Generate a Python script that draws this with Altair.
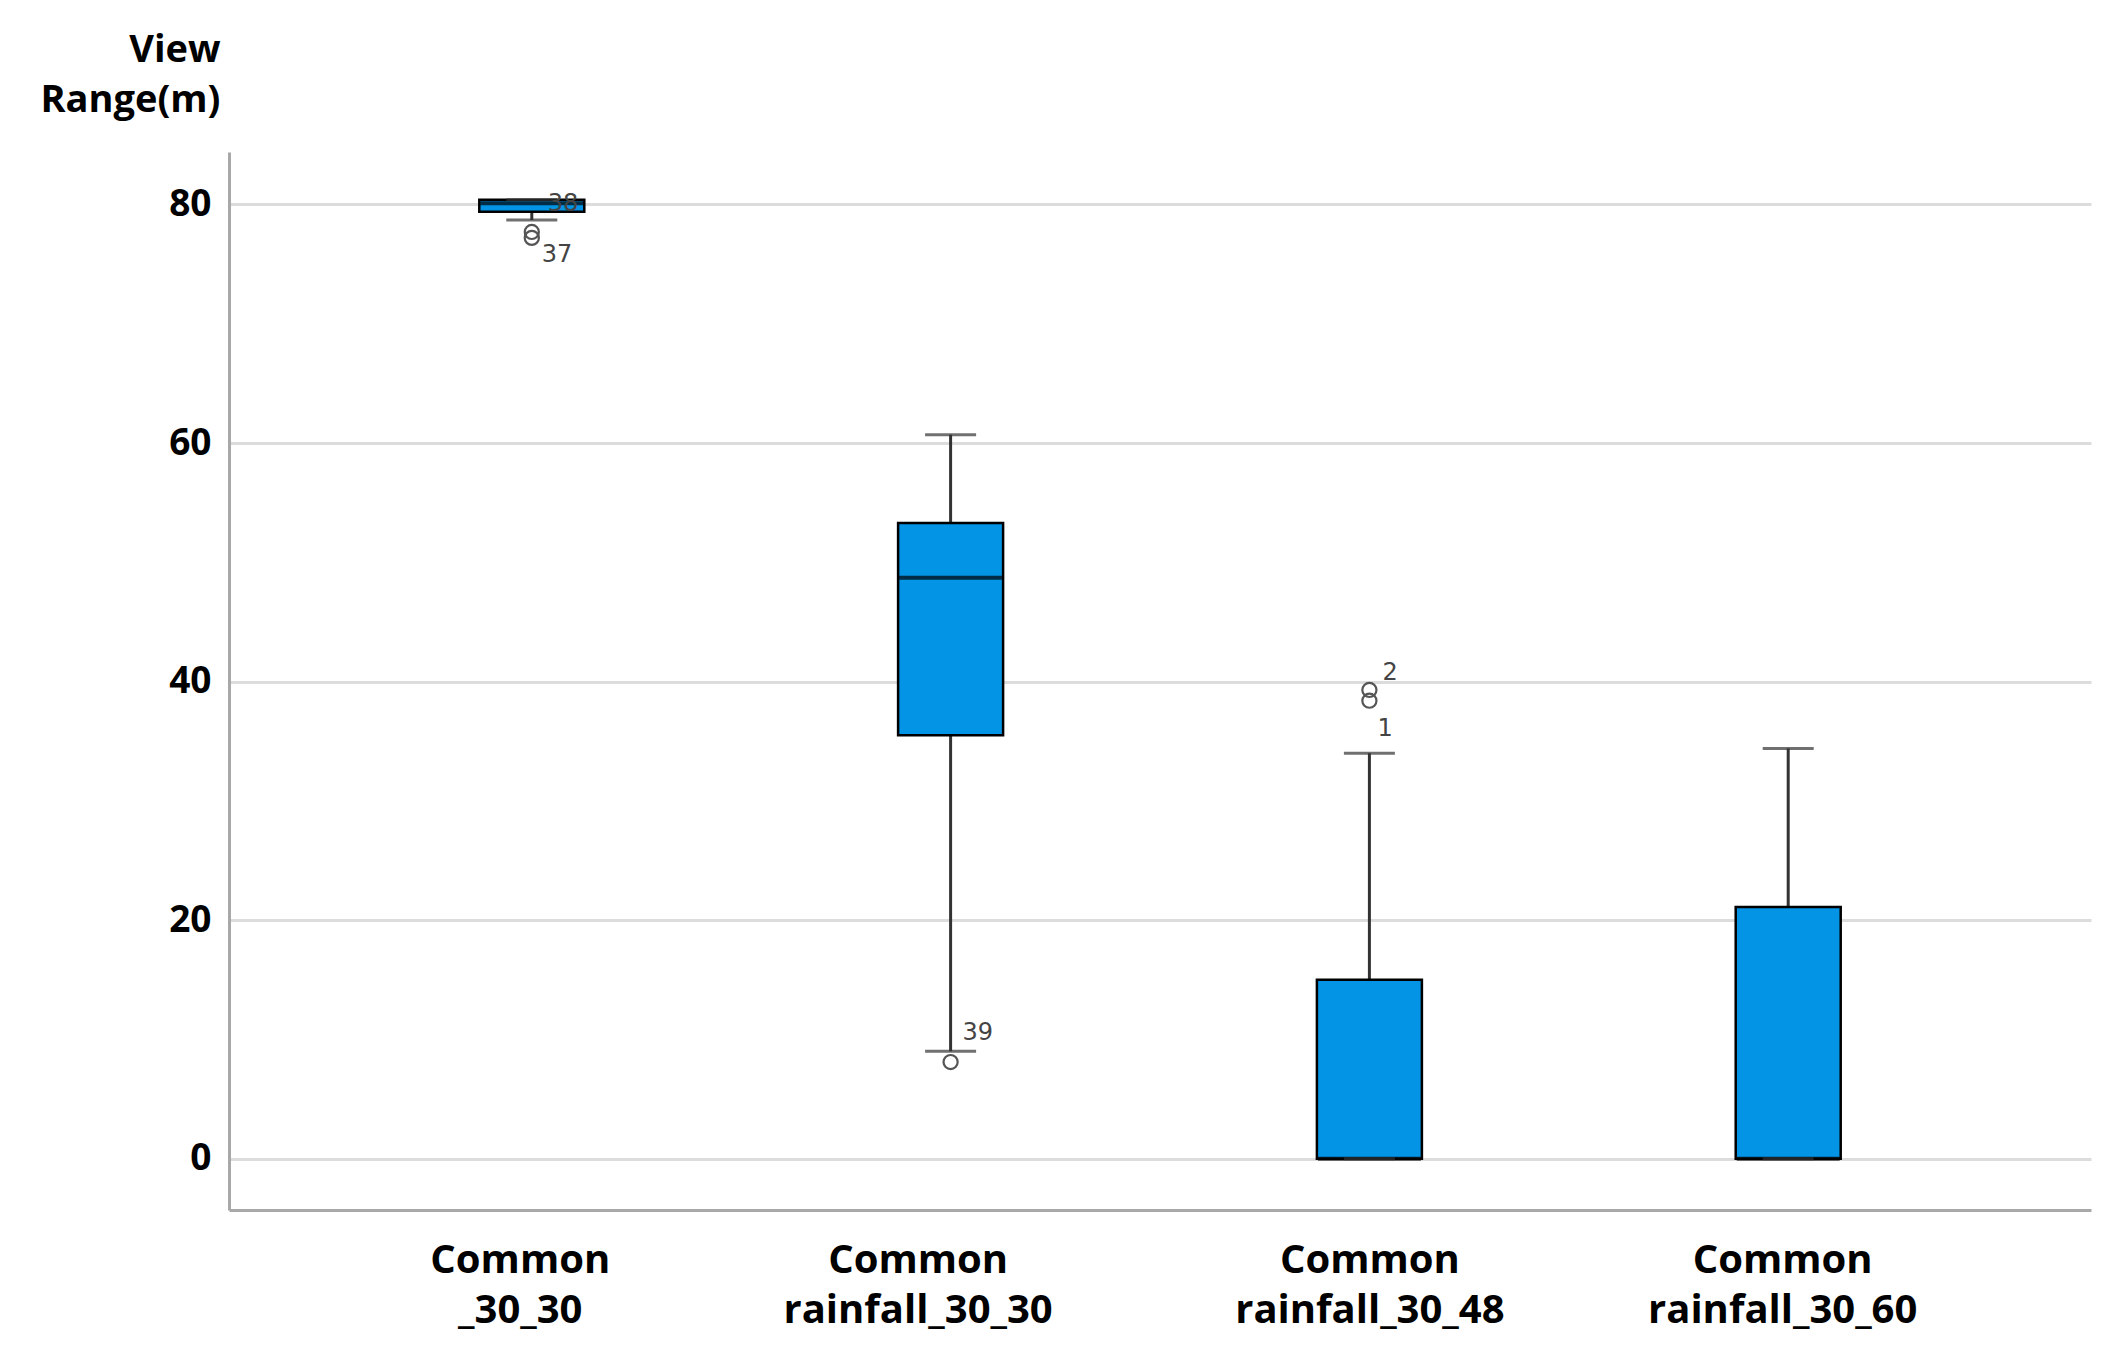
import altair as alt
import pandas as pd

categories = ["Common _30_30", "Common rainfall_30_30", "Common rainfall_30_48", "Common rainfall_30_60"]
lower_whisker = [78.7, 9.0, 0.0, 0.0]
q1 = [79.4, 35.5, 0.0, 0.0]
median = [80.1, 48.7, 0.0, 0.0]
q3 = [80.4, 53.3, 15.0, 21.1]
upper_whisker = [80.4, 60.7, 34.0, 34.4]

outlier_cat = ["Common _30_30", "Common _30_30", "Common rainfall_30_30", "Common rainfall_30_48", "Common rainfall_30_48"]
outlier_val = [77.7, 77.2, 8.1, 39.3, 38.4]

label_text = ["37", "38", "39", "2", "1"]
label_cat = ["Common _30_30", "Common _30_30", "Common rainfall_30_30", "Common rainfall_30_48", "Common rainfall_30_48"]
label_val = [77.2, 80.0, 8.1, 39.3, 38.4]
label_dx = [10, 16, 12, 13, 8]
label_dy = [17, 0, -29, -17, 28]

# horizontal shift of each category's tick label (as in the reference)
tick_label_shift = [-12, -33, 0, -6]

y_ticks = [0, 20, 40, 60, 80]

boxes = pd.DataFrame({
    "cat": categories, "lo": lower_whisker, "q1": q1, "med": median,
    "q3": q3, "hi": upper_whisker,
})
outliers = pd.DataFrame({"cat": outlier_cat, "val": outlier_val})
labels = pd.DataFrame({"cat": label_cat, "val": label_val, "text": label_text})

FONT = "Open Sans"
BOX_FILL = "#0394e6"

label_offset = {
    "condition": [
        {"test": f"datum.value == '{c}'", "value": s}
        for c, s in zip(categories, tick_label_shift)
    ],
    "value": 0,
}

x_enc = alt.X(
    "cat:N",
    sort=categories,
    scale=alt.Scale(type="point", padding=0.723),
    axis=alt.Axis(
        title=None, labelAngle=0, labelExpr="split(datum.label, ' ')",
        labelFont=FONT, labelFontWeight="bold", labelFontSize=40, labelColor="black",
        labelLineHeight=50, labelPadding=30, labelLimit=0, labelOffset=label_offset,
        ticks=False, grid=False, domainColor="#a8a8a8", domainWidth=3,
    ),
)
y_scale = alt.Scale(domain=[-4.3, 84.4], nice=False, zero=False)
y_axis = alt.Axis(
    values=y_ticks, title=["View", "Range(m)"], titleAngle=0, titleAlign="right",
    titleBaseline="top", titleX=-9, titleY=-121, titleFont=FONT, titleFontWeight="bold",
    titleFontSize=38, titleLineHeight=50, titleColor="black",
    labelFont=FONT, labelFontWeight="bold", labelFontSize=37, labelColor="black",
    labelPadding=18, ticks=False, grid=True, gridColor="#dcdcdc", gridWidth=3,
    domainColor="#a8a8a8", domainWidth=3,
)

base = alt.Chart(boxes)

whisker_low = base.mark_rule(color="#333333", strokeWidth=3).encode(
    x=x_enc, y=alt.Y("lo:Q", scale=y_scale, axis=y_axis), y2="q1:Q")
whisker_high = base.mark_rule(color="#333333", strokeWidth=3).encode(
    x=x_enc, y=alt.Y("q3:Q", scale=y_scale), y2="hi:Q")
box = base.mark_bar(size=105, color=BOX_FILL, stroke="black", strokeWidth=2.5).encode(
    x=x_enc, y=alt.Y("q1:Q", scale=y_scale), y2="q3:Q")
med = base.mark_tick(size=103, thickness=4, color="black").encode(
    x=x_enc, y=alt.Y("med:Q", scale=y_scale))
cap_low = base.mark_tick(size=51, thickness=3, color="#333333").encode(
    x=x_enc, y=alt.Y("lo:Q", scale=y_scale))
cap_high = base.mark_tick(size=51, thickness=3, color="#333333").encode(
    x=x_enc, y=alt.Y("hi:Q", scale=y_scale))
pts = alt.Chart(outliers).mark_point(
    shape="circle", filled=False, size=200, color="#555555", strokeWidth=2.2, opacity=1
).encode(x=x_enc, y=alt.Y("val:Q", scale=y_scale))

layers = [whisker_low, whisker_high, box, med, cap_low, cap_high, pts]
for i in range(len(label_text)):
    layers.append(
        alt.Chart(labels.iloc[[i]]).mark_text(
            align="left", baseline="middle", dx=label_dx[i], dy=label_dy[i],
            font="DejaVu Sans", fontSize=24, color="#444444",
        ).encode(x=x_enc, y=alt.Y("val:Q", scale=y_scale), text="text:N")
    )

chart = alt.layer(*layers).properties(
    width=1862, height=1058,
    autosize=alt.AutoSizeParams(type="none"),
    padding={"left": 221, "top": 144, "right": 20, "bottom": 130},
    background="white",
).configure_view(stroke=None)

chart.save("out.html", embed_options={"renderer": "svg", "actions": False})
